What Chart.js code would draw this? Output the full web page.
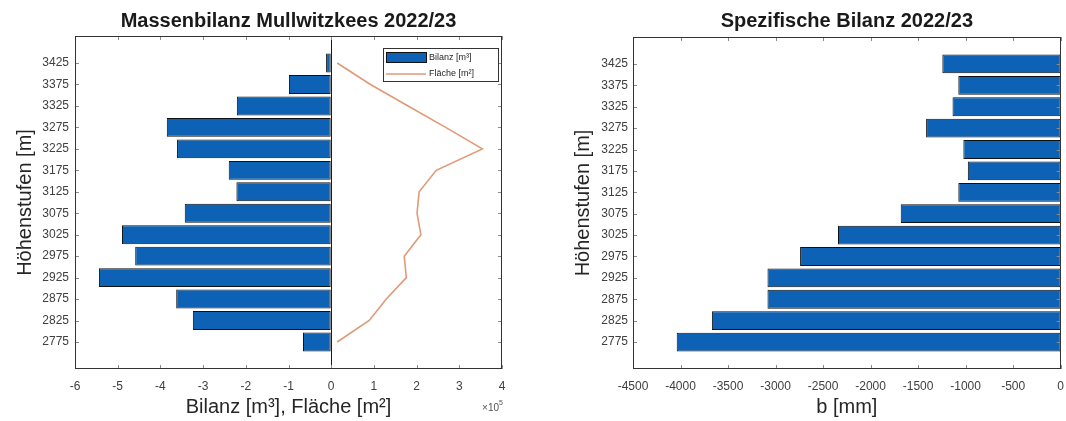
<!DOCTYPE html>
<html lang="de">
<head>
<meta charset="UTF-8">
<title>Massenbilanz Mullwitzkees 2022/23</title>
<script src="https://cdn.jsdelivr.net/npm/chart.js"></script>
<style>
  body { margin: 0; background: #fff; }
  #wrap { position: relative; width: 1066px; height: 421px; }
  .box { position: absolute; top: 0; width: 533px; height: 421px; }
</style>
</head>
<body>
<div id="wrap">
  <div class="box" style="left:0"><canvas id="massChart"></canvas></div>
  <div class="box" style="left:533px"><canvas id="specChart"></canvas></div>
</div>
<script>
// Höhenstufen (von oben nach unten)
const hoehenstufen = [3425, 3375, 3325, 3275, 3225, 3175, 3125, 3075, 3025, 2975, 2925, 2875, 2825, 2775];
// Massenbilanz je Höhenstufe [m³]
const bilanzM3 = [-12000, -99000, -221000, -385000, -361000, -240000, -222000, -343000, -490000, -459000, -544000, -363000, -324000, -66000];
// Fläche je Höhenstufe [m²]
const flaecheM2 = [14000, 92000, 180000, 268000, 354000, 246000, 206000, 201000, 210000, 171000, 176000, 129000, 89000, 14000];
// spezifische Bilanz [mm]
const spezBilanzMm = [-1245, -1077, -1138, -1416, -1024, -977, -1077, -1683, -2343, -2742, -3085, -3085, -3670, -4040];

const FONT = '"Liberation Sans", Arial, sans-serif';
const BLUE = '#0d62b5';
const ORANGE = '#e09a78';
const TXT = '#262626';

Chart.defaults.font.family = FONT;
Chart.defaults.color = TXT;

// MATLAB-artiger Rahmen mit Tickmarken innen
const frame = {
  id: 'frame',
  afterDatasetsDraw(chart) {
    const {ctx, chartArea: a, scales: {x, y}} = chart;
    ctx.save();
    ctx.strokeStyle = '#8a8a8a';
    ctx.lineWidth = 1;
    ctx.beginPath();
    x.ticks.forEach(t => {
      const px = Math.round(x.getPixelForValue(t.value)) + 0.5;
      ctx.moveTo(px, a.bottom); ctx.lineTo(px, a.bottom - 4);
      ctx.moveTo(px, a.top); ctx.lineTo(px, a.top + 4);
    });
    y.ticks.forEach(t => {
      const py = Math.round(y.getPixelForValue(t.value)) + 0.5;
      ctx.moveTo(a.left, py); ctx.lineTo(a.left + 4, py);
      ctx.moveTo(a.right, py); ctx.lineTo(a.right - 4, py);
    });
    ctx.stroke();
    ctx.strokeStyle = '#333';
    ctx.strokeRect(Math.round(a.left) + 0.5, Math.round(a.top) + 0.5, Math.round(a.width) - 1, Math.round(a.height) - 1);
    ctx.restore();
  }
};

// Legende im Diagramm oben rechts, plus Exponent der x-Achse
const massExtras = {
  id: 'massExtras',
  afterDraw(chart) {
    const {ctx, chartArea: a} = chart;
    const ds = chart.data.datasets;
    const bx = a.right - 119, by = a.top + 12, bw = 115, bh = 33;
    ctx.save();
    ctx.fillStyle = '#fff';
    ctx.fillRect(bx, by, bw, bh);
    ctx.strokeStyle = '#333';
    ctx.lineWidth = 1;
    ctx.strokeRect(bx + 0.5, by + 0.5, bw, bh);
    ctx.fillStyle = ds[0].backgroundColor;
    ctx.fillRect(bx + 3, by + 4, 40, 10);
    ctx.strokeStyle = '#111';
    ctx.strokeRect(bx + 3.5, by + 4.5, 40, 10);
    ctx.strokeStyle = ds[1].borderColor;
    ctx.lineWidth = 1.5;
    ctx.beginPath();
    ctx.moveTo(bx + 3, by + 26); ctx.lineTo(bx + 43, by + 26);
    ctx.stroke();
    ctx.fillStyle = TXT;
    ctx.font = '9px ' + FONT;
    ctx.textBaseline = 'middle';
    ctx.fillText(ds[0].label, bx + 46, by + 10);
    ctx.fillText(ds[1].label, bx + 46, by + 26);
    // ×10^5
    ctx.fillStyle = '#555';
    ctx.font = '10px ' + FONT;
    ctx.textAlign = 'right';
    ctx.fillText('\u00d710', a.right - 3, 408);
    ctx.font = '7px ' + FONT;
    ctx.textAlign = 'left';
    ctx.fillText('5', a.right - 3, 403);
    ctx.restore();
  }
};

const yAxis = (width, titlePad, tickPad) => ({
  type: 'linear',
  min: 2712,
  max: 3488,
  offset: false,
  afterBuildTicks: s => { s.ticks = hoehenstufen.map(v => ({value: v})); },
  afterFit: s => { s.width = width; },
  grid: { display: false, drawTicks: false, offset: false },
  border: { display: false },
  ticks: { font: { size: 12 }, color: '#404040', padding: tickPad, callback: v => String(v) },
  title: { display: true, text: 'Höhenstufen [m]', font: { size: 20 }, color: TXT, padding: { top: titlePad, bottom: 0 } }
});

const xTicks = (step, cb) => ({ stepSize: step, font: { size: 12 }, color: '#404040', padding: 2, callback: cb });

new Chart(document.getElementById('massChart'), {
  data: {
    datasets: [{
      type: 'bar',
      label: 'Bilanz [m³]',
      data: hoehenstufen.map((h, i) => ({x: bilanzM3[i], y: h})),
      backgroundColor: BLUE,
      borderColor: '#111',
      borderWidth: 1,
      borderSkipped: false,
      categoryPercentage: 0.88,
      barPercentage: 1
    }, {
      type: 'line',
      label: 'Fläche [m²]',
      data: hoehenstufen.map((h, i) => ({x: flaecheM2[i], y: h})),
      borderColor: ORANGE,
      borderWidth: 1.6,
      pointRadius: 0,
      tension: 0
    }]
  },
  options: {
    indexAxis: 'y',
    responsive: true,
    maintainAspectRatio: false,
    animation: false,
    layout: { padding: { left: 0, right: 31, top: 0, bottom: 0 } },
    plugins: {
      legend: { display: false },
      tooltip: { enabled: false },
      title: {
        display: true, fullSize: false,
        text: 'Massenbilanz Mullwitzkees 2022/23',
        font: { size: 20, weight: 'bold', lineHeight: '22px' },
        color: '#1a1a1a',
        padding: { top: 10, bottom: 4 }
      }
    },
    scales: {
      x: {
        type: 'linear',
        min: -600000,
        max: 400000,
        afterFit: s => { s.height = 52; },
        grid: {
          drawTicks: true, tickLength: 8, tickColor: 'rgba(0,0,0,0)',
          color: c => (c.tick && c.tick.value === 0) ? '#1a1a1a' : 'rgba(0,0,0,0)'
        },
        border: { display: false },
        ticks: xTicks(100000, v => String(v / 100000)),
        title: { display: true, text: 'Bilanz [m³], Fläche [m²]', font: { size: 20 }, color: TXT, padding: { top: 0, bottom: 2 } }
      },
      y: yAxis(75, 13, 6)
    }
  },
  plugins: [frame, massExtras]
});

new Chart(document.getElementById('specChart'), {
  type: 'bar',
  data: {
    datasets: [{
      label: 'b [mm]',
      data: hoehenstufen.map((h, i) => ({x: spezBilanzMm[i], y: h})),
      backgroundColor: BLUE,
      borderColor: '#111',
      borderWidth: 1,
      borderSkipped: false,
      categoryPercentage: 0.88,
      barPercentage: 1
    }]
  },
  options: {
    indexAxis: 'y',
    responsive: true,
    maintainAspectRatio: false,
    animation: false,
    layout: { padding: { left: 0, right: 4, top: 0, bottom: 0 } },
    plugins: {
      legend: { display: false },
      tooltip: { enabled: false },
      title: {
        display: true, fullSize: false,
        text: 'Spezifische Bilanz 2022/23',
        font: { size: 20, weight: 'bold', lineHeight: '22px' },
        color: '#1a1a1a',
        padding: { top: 10, bottom: 5 }
      }
    },
    scales: {
      x: {
        type: 'linear',
        min: -4500,
        max: 0,
        afterFit: s => { s.height = 52; },
        grid: { display: false, drawTicks: true, tickLength: 8 },
        border: { display: false },
        ticks: xTicks(500, v => String(v)),
        title: { display: true, text: 'b [mm]', font: { size: 20 }, color: TXT, padding: { top: 0, bottom: 2 } }
      },
      y: yAxis(100, 38, 5)
    }
  },
  plugins: [frame]
});
</script>
</body>
</html>
